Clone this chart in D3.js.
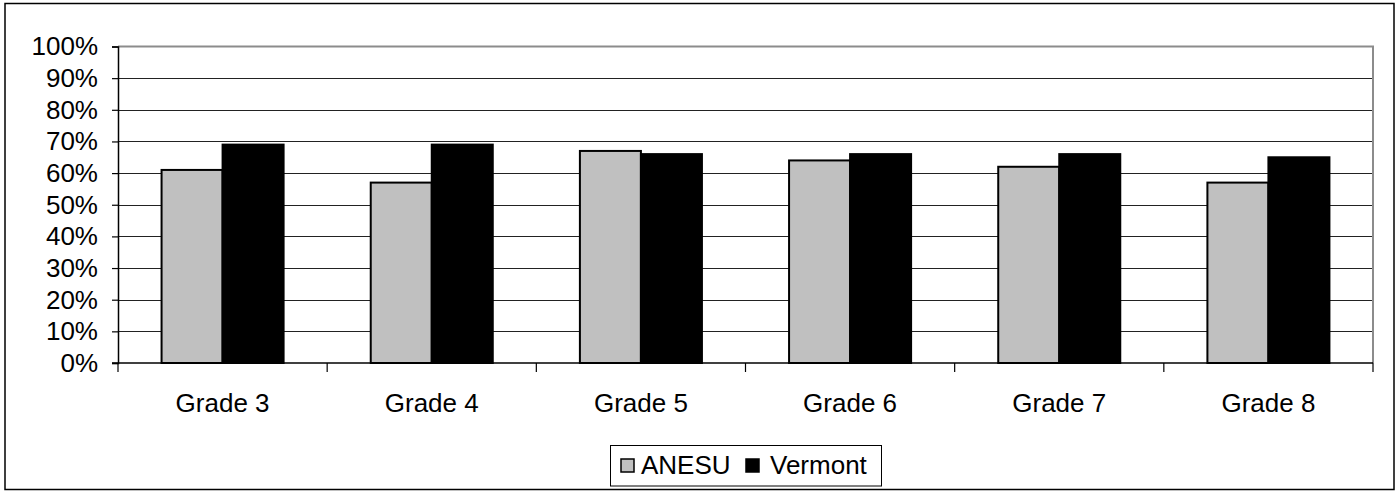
<!DOCTYPE html>
<html>
<head>
<meta charset="utf-8">
<script src="https://cdn.jsdelivr.net/npm/d3@7"></script>
<style>
  html, body { margin: 0; padding: 0; background: #fff; }
  svg { display: block; }
  text { font-family: "Liberation Sans", Arial, sans-serif; fill: #000; }
</style>
</head>
<body>
<svg id="chart" width="1398" height="492"></svg>
<script>
// Share of students by grade, ANESU vs. statewide
const categories = ["Grade 3", "Grade 4", "Grade 5", "Grade 6", "Grade 7", "Grade 8"];
const seriesNames = ["ANESU", "Vermont"];
const anesuValues = [61, 57, 67, 64, 62, 57];
const vermontValues = [69, 69, 66, 66, 66, 65];
const yTicks = [0, 10, 20, 30, 40, 50, 60, 70, 80, 90, 100];
const seriesColors = ["#c0c0c0", "#000000"];

const svg = d3.select("#chart");
const plot = { left: 118, right: 1373, top: 46.5, bottom: 363 };
const fontSize = 26;

// Outer frame
svg.append("rect")
  .attr("x", 5).attr("y", 3.5)
  .attr("width", 1389).attr("height", 486)
  .attr("fill", "#fff").attr("stroke", "#000").attr("stroke-width", 1.5);

const x0 = d3.scaleBand().domain(categories)
  .range([plot.left, plot.right]).paddingInner(0.4166).paddingOuter(0.2083);
const x1 = d3.scaleBand().domain(seriesNames).range([0, x0.bandwidth()]);
const y = d3.scaleLinear().domain([0, 100]).range([plot.bottom, plot.top]);

// Horizontal gridlines
svg.append("g").selectAll("line").data(yTicks.filter(t => t > 0 && t < 100)).join("line")
  .attr("x1", plot.left).attr("x2", plot.right)
  .attr("y1", d => Math.round(y(d)) + 0.5).attr("y2", d => Math.round(y(d)) + 0.5)
  .attr("stroke", "#222").attr("stroke-width", 1.2);

// Plot area border (top and right)
svg.append("path")
  .attr("d", `M${plot.left},${plot.top} H${plot.right} V${plot.bottom}`)
  .attr("fill", "none").attr("stroke", "#8c8c8c").attr("stroke-width", 2);

// Bars
const rows = categories.map((c, i) => ({ cat: c, vals: [anesuValues[i], vermontValues[i]] }));
const groups = svg.append("g").selectAll("g").data(rows).join("g")
  .attr("transform", d => `translate(${x0(d.cat)},0)`);
groups.selectAll("rect").data(d => d.vals.map((v, j) => ({ name: seriesNames[j], v, j }))).join("rect")
  .attr("x", d => x1(d.name))
  .attr("y", d => y(d.v))
  .attr("width", x1.bandwidth())
  .attr("height", d => y(0) - y(d.v))
  .attr("fill", d => seriesColors[d.j])
  .attr("stroke", "#000").attr("stroke-width", 2);

// Y axis
const yAxis = d3.axisLeft(y).tickValues(yTicks).tickSize(6).tickPadding(14)
  .tickFormat(d => d + "%");
const gy = svg.append("g").attr("transform", `translate(${plot.left},0)`).call(yAxis);
gy.select(".domain").attr("stroke", "#000").attr("stroke-width", 1.5);
gy.selectAll(".tick line").attr("stroke", "#000").attr("stroke-width", 1.2);
gy.selectAll("text").attr("font-size", fontSize).style("font-family", "Liberation Sans, Arial, sans-serif");

// X axis with ticks at category boundaries
svg.append("line")
  .attr("x1", plot.left - 6).attr("x2", plot.right)
  .attr("y1", plot.bottom).attr("y2", plot.bottom)
  .attr("stroke", "#000").attr("stroke-width", 1.5);
const step = x0.step();
const boundaries = d3.range(categories.length + 1).map(i => plot.left + i * step);
svg.append("g").selectAll("line").data(boundaries).join("line")
  .attr("x1", d => d).attr("x2", d => d)
  .attr("y1", plot.bottom).attr("y2", plot.bottom + 9)
  .attr("stroke", "#000").attr("stroke-width", 1.2);
svg.append("g").selectAll("text").data(categories).join("text")
  .attr("x", d => x0(d) + x0.bandwidth() / 2)
  .attr("y", 412)
  .attr("text-anchor", "middle")
  .attr("font-size", fontSize)
  .text(d => d);

// Legend
const lg = svg.append("g");
lg.append("rect").attr("x", 610.5).attr("y", 445.5).attr("width", 271).attr("height", 40.5)
  .attr("fill", "#fff").attr("stroke", "#000").attr("stroke-width", 1);
const legendItems = [
  { name: seriesNames[0], color: seriesColors[0], sx: 621, tx: 641 },
  { name: seriesNames[1], color: seriesColors[1], sx: 746, tx: 770 }
];
legendItems.forEach(it => {
  lg.append("rect").attr("x", it.sx).attr("y", 459).attr("width", 13).attr("height", 13)
    .attr("fill", it.color).attr("stroke", "#000").attr("stroke-width", 1.5);
  lg.append("text").attr("x", it.tx).attr("y", 474).attr("font-size", fontSize).text(it.name);
});
</script>
</body>
</html>
